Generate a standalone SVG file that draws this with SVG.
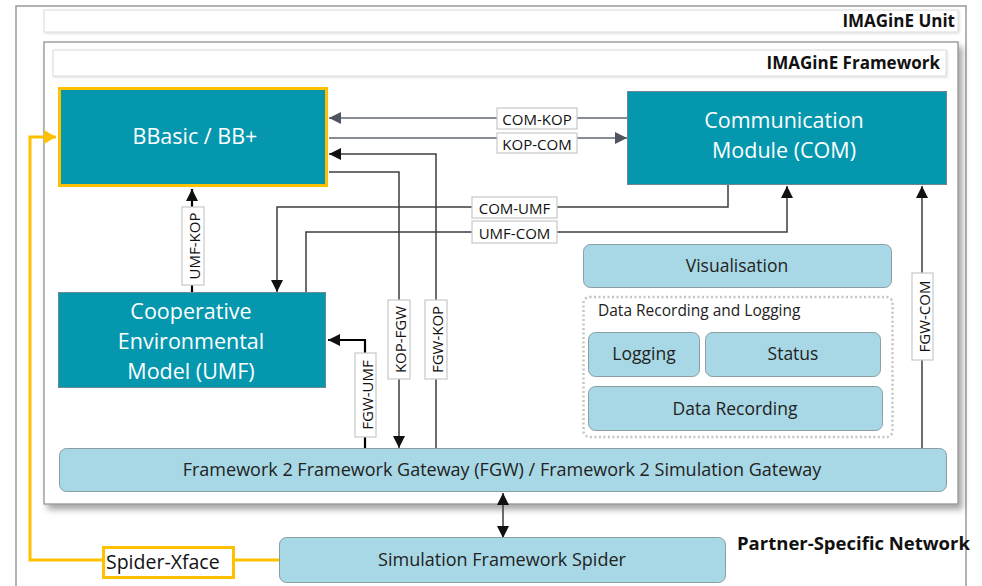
<svg xmlns="http://www.w3.org/2000/svg" width="982" height="586" viewBox="0 0 982 586">
<defs>
<filter id="shadow" x="-5%" y="-5%" width="110%" height="110%">
<feDropShadow dx="4" dy="5" stdDeviation="3" flood-color="#000" flood-opacity="0.35"/>
</filter>
<filter id="hshadow" x="-2%" y="-20%" width="104%" height="140%">
<feDropShadow dx="1" dy="1" stdDeviation="1" flood-color="#000" flood-opacity="0.15"/>
</filter>
<marker id="arrK" markerUnits="userSpaceOnUse" markerWidth="13" markerHeight="12" refX="12" refY="6" orient="auto">
<path d="M0,0 L12,6 L0,12 z" fill="#111"/>
</marker>
<marker id="arrG" markerUnits="userSpaceOnUse" markerWidth="13" markerHeight="12" refX="12" refY="6" orient="auto">
<path d="M0,0 L12,6 L0,12 z" fill="#4f5560"/>
</marker>
<marker id="arrKs" markerUnits="userSpaceOnUse" markerWidth="13" markerHeight="12" refX="12" refY="6" orient="auto-start-reverse">
<path d="M0,0 L12,6 L0,12 z" fill="#111"/>
</marker>
<marker id="arrY" markerUnits="userSpaceOnUse" markerWidth="13" markerHeight="14" refX="12" refY="7" orient="auto">
<path d="M0,0 L12,7 L0,14 z" fill="#FFC000"/>
</marker>
</defs>
<style>
.teal{fill:#0597AE;stroke:#6f8790;stroke-width:1}
.light{fill:#A8D8E5;stroke:#8a9da4;stroke-width:1}
.tw{font-family:"Open Sans","Noto Sans",sans-serif;font-size:21.5px;fill:#fff;text-anchor:middle}
.tl{font-family:"Open Sans","Noto Sans",sans-serif;font-size:17.5px;fill:#222;text-anchor:middle}
.tc{font-family:"Open Sans","Noto Sans",sans-serif;font-size:18px;fill:#222;text-anchor:middle}
.hd{font-family:"Open Sans","Noto Sans",sans-serif;font-size:17px;font-weight:bold;fill:#111;text-anchor:end}
.lb{fill:#fff;stroke:#c8c8c8;stroke-width:1.2}
.lt{font-family:"Open Sans","Noto Sans",sans-serif;font-size:15px;fill:#111;text-anchor:middle;dominant-baseline:central}
.c{fill:none;stroke:#3d3d3d;stroke-width:1.5}
.cg{fill:none;stroke:#5f6570;stroke-width:1.5}
.ck{fill:none;stroke:#000;stroke-width:2.2}
.y{fill:none;stroke:#FFC000;stroke-width:3}
</style>
<rect x="0" y="0" width="982" height="586" fill="#fff"/>

<g id="imagine-unit">
<rect x="16" y="6" width="950" height="590" fill="#fff" stroke="#9a9a9a" stroke-width="1.5"/>
<rect x="44" y="10" width="914" height="22" fill="#fff" stroke="#dadada" stroke-width="1" filter="url(#hshadow)"/>
<text class="hd" x="955" y="27">IMAGinE Unit</text>
</g>

<g id="imagine-framework">
<rect x="44" y="42" width="914" height="462" fill="#fff" stroke="#8a8a8a" stroke-width="1.2" filter="url(#shadow)"/>
<rect x="53" y="50" width="893" height="26" fill="#fff" stroke="#dadada" stroke-width="1" filter="url(#hshadow)"/>
<text class="hd" x="940" y="69">IMAGinE Framework</text>
</g>

<g id="connectors">
<path class="cg" d="M627,118 H329" marker-end="url(#arrG)"/>
<path class="cg" d="M329,138 H627" marker-end="url(#arrG)"/>
<path class="c" d="M436,448 V154 H329" marker-end="url(#arrK)"/>
<path class="c" d="M329,172 H399 V448" marker-end="url(#arrK)"/>
<path class="c" d="M728,185 V207 H277 V292" marker-end="url(#arrK)"/>
<path class="c" d="M306,293 V232 H787 V186" marker-end="url(#arrK)"/>
<path class="ck" d="M192,293 V189" marker-end="url(#arrK)"/>
<path class="ck" d="M365,448 V340 H328" marker-end="url(#arrK)"/>
<path class="c" d="M922,448 V186" marker-end="url(#arrK)"/>
<path class="c" d="M503,493 V538" marker-start="url(#arrKs)" marker-end="url(#arrK)"/>
<path class="y" d="M103,560 H30 V137 H56" marker-end="url(#arrY)"/>
<path class="y" d="M235,560 H279"/>

<rect class="lb" x="497" y="108" width="80" height="21"/>
<text class="lt" x="537" y="119">COM-KOP</text>
<rect class="lb" x="497" y="133" width="80" height="20"/>
<text class="lt" x="537" y="143.5">KOP-COM</text>
<rect class="lb" x="472" y="197" width="85" height="21"/>
<text class="lt" x="514.5" y="208">COM-UMF</text>
<rect class="lb" x="472" y="221" width="85" height="22"/>
<text class="lt" x="514.5" y="232.5">UMF-COM</text>
<rect class="lb" x="182" y="207" width="22" height="78"/>
<text class="lt" transform="translate(193,246) rotate(-90)" x="0" y="1">UMF-KOP</text>
<rect class="lb" x="388" y="300" width="22" height="79"/>
<text class="lt" transform="translate(399,339.5) rotate(-90)" x="0" y="1">KOP-FGW</text>
<rect class="lb" x="425" y="300" width="22" height="79"/>
<text class="lt" transform="translate(436,339.5) rotate(-90)" x="0" y="1">FGW-KOP</text>
<rect class="lb" x="355" y="353" width="21" height="84"/>
<text class="lt" transform="translate(365.5,395) rotate(-90)" x="0" y="1">FGW-UMF</text>
<rect class="lb" x="912" y="273" width="21" height="87"/>
<text class="lt" transform="translate(922.5,316.5) rotate(-90)" x="0" y="1">FGW-COM</text>
</g>

<g id="bbasic">
<rect x="59.5" y="88.5" width="267" height="97" fill="#0597AE" stroke="#FFC000" stroke-width="3"/>
<text class="tw" x="195" y="144">BBasic / BB+</text>
</g>

<g id="com">
<rect class="teal" x="627.5" y="91.5" width="319" height="93"/>
<text class="tw" x="784" y="128">Communication</text>
<text class="tw" x="784" y="158">Module (COM)</text>
</g>

<g id="umf">
<rect class="teal" x="58.5" y="292.5" width="267" height="95"/>
<text class="tw" x="191" y="319">Cooperative</text>
<text class="tw" x="191" y="349">Environmental</text>
<text class="tw" x="191" y="379">Model (UMF)</text>
</g>

<g id="visualisation">
<rect class="light" x="583.5" y="244.5" width="308" height="43" rx="7"/>
<text class="tl" x="737" y="272">Visualisation</text>
</g>

<g id="data-recording-logging">
<rect x="583.5" y="297" width="309" height="140" rx="6" fill="none" stroke="#c4c4c4" stroke-width="2.5" stroke-dasharray="2,2.5"/>
<text font-family="'Open Sans','Noto Sans',sans-serif" font-size="15.5px" fill="#222" x="598" y="316">Data Recording and Logging</text>
</g>

<g id="logging">
<rect class="light" x="588.5" y="332.5" width="111" height="44" rx="7"/>
<text class="tl" x="644" y="360">Logging</text>
</g>

<g id="status">
<rect class="light" x="705.5" y="332.5" width="175" height="44" rx="7"/>
<text class="tl" x="793" y="360">Status</text>
</g>

<g id="data-recording">
<rect class="light" x="588.5" y="386.5" width="294" height="44" rx="7"/>
<text class="tl" x="735" y="415">Data Recording</text>
</g>

<g id="fgw">
<rect class="light" x="59.5" y="448.5" width="887" height="43" rx="7"/>
<text class="tc" x="502" y="476">Framework 2 Framework Gateway (FGW) / Framework 2 Simulation Gateway</text>
</g>

<g id="spider">
<rect class="light" x="279.5" y="537.5" width="446" height="45" rx="7"/>
<text class="tc" x="502" y="566">Simulation Framework Spider</text>
</g>

<g id="spider-xface">
<rect x="103.5" y="547.5" width="130" height="30" fill="#fff" stroke="#FFC000" stroke-width="3"/>
<text font-family="'Open Sans','Noto Sans',sans-serif" font-size="19.5px" fill="#111" x="106" y="569">Spider-Xface</text>
</g>

<g id="partner-network">
<text font-family="'Open Sans','Noto Sans',sans-serif" font-size="18.5px" font-weight="bold" fill="#111" x="737" y="550">Partner-Specific Network</text>
</g>
</svg>
